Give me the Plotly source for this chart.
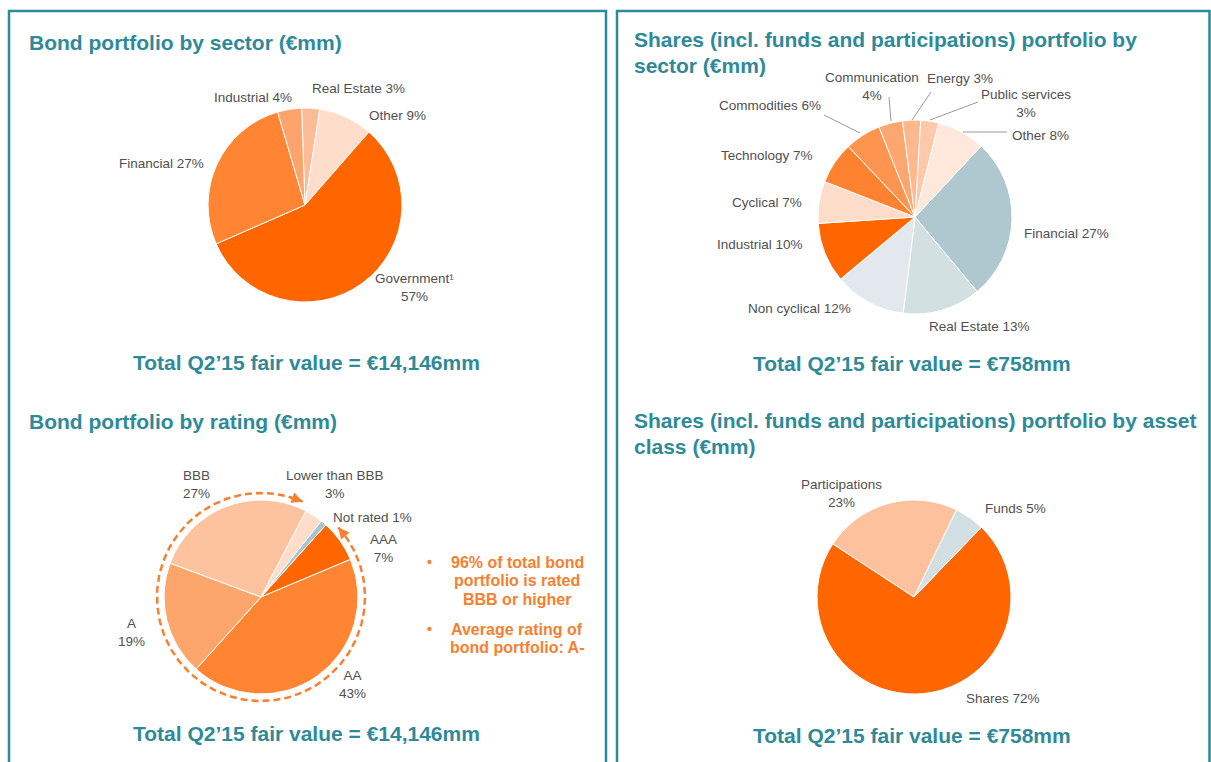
import math
import plotly.graph_objects as go

W, H = 1211, 762

# ---------------- data ----------------
bond_sector_labels = ["Real Estate", "Other", "Government¹", "Financial", "Industrial"]
bond_sector_values = [3, 9, 57, 27, 4]

share_sector_labels = ["Financial", "Real Estate", "Non cyclical", "Industrial", "Cyclical",
                       "Technology", "Commodities", "Communication", "Energy",
                       "Public services", "Other"]
share_sector_values = [27, 13, 12, 10, 7, 7, 6, 4, 3, 3, 8]

bond_rating_labels = ["AAA", "AA", "A", "BBB", "Lower than BBB", "Not rated"]
bond_rating_values = [7, 43, 19, 27, 3, 1]
rated_bbb_or_higher = ["AAA", "AA", "A", "BBB"]

asset_class_labels = ["Shares", "Participations", "Funds"]
asset_class_values = [72, 23, 5]

bond_total = "€14,146mm"
shares_total = "€758mm"

panel_titles = {
    "bond_sector": ["Bond portfolio by sector (€mm)"],
    "share_sector": ["Shares (incl. funds and participations) portfolio by", "sector (€mm)"],
    "bond_rating": ["Bond portfolio by rating (€mm)"],
    "asset_class": ["Shares (incl. funds and participations) portfolio by asset", "class (€mm)"],
}
bullets = [["96% of total bond", "portfolio is rated", "BBB or higher"],
           ["Average rating of", "bond portfolio: A-"]]

# ---------------- styles ----------------
TEAL = "#2E8A98"
ORANGE_TXT = "#F7802F"
LABEL_GRAY = "#505050"
FONT = "Liberation Sans, Arial, sans-serif"

bond_sector_colors = ["#FDBC96", "#FEDDCA", "#FF6600", "#FF8533", "#FCA46C"]
share_sector_colors = ["#AFC7CF", "#D3E0E2", "#E2E8EE", "#FF6600", "#FDDCC9",
                       "#FF8230", "#FD9550", "#FDA66F", "#FDB88E", "#FEC9AB", "#FEE8DC"]
bond_rating_colors = ["#FF6600", "#FF8533", "#FDA66C", "#FDC29E", "#FEDDCB", "#A9C4CC"]
asset_class_colors = ["#FF6600", "#FEC19D", "#D3E0E3"]

R = 97
pies = [
    dict(labels=bond_sector_labels, values=bond_sector_values, colors=bond_sector_colors,
         c=(305, 205), rot=-2),
    dict(labels=share_sector_labels, values=share_sector_values, colors=share_sector_colors,
         c=(915, 217), rot=43),
    dict(labels=bond_rating_labels, values=bond_rating_values, colors=bond_rating_colors,
         c=(261, 597), rot=42),
    dict(labels=asset_class_labels, values=asset_class_values, colors=asset_class_colors,
         c=(914, 597), rot=44),
]


def domain(cx, cy, r):
    return dict(x=[(cx - r) / W, (cx + r) / W], y=[1 - (cy + r) / H, 1 - (cy - r) / H])


fig = go.Figure()

for p in pies:
    fig.add_trace(go.Pie(
        labels=p["labels"], values=p["values"], sort=False, direction="clockwise",
        rotation=p["rot"], textinfo="none", showlegend=False,
        marker=dict(colors=p["colors"], line=dict(color="white", width=1)),
        domain=domain(p["c"][0], p["c"][1], R), hoverinfo="label+percent",
    ))

# dashed arc around bond-by-rating pie, covering the BBB-or-higher share
cx, cy = pies[2]["c"]
RA = 104
share_hi = sum(v for l, v in zip(bond_rating_labels, bond_rating_values) if l in rated_bbb_or_higher)
a0 = pies[2]["rot"] + 6
a1 = pies[2]["rot"] + share_hi * 3.6 - 4
n = 200
xs, ys = [], []
for i in range(n + 1):
    a = math.radians(a0 + (a1 - a0) * i / n)
    xs.append(cx + RA * math.sin(a))
    ys.append(cy - RA * math.cos(a))
fig.add_trace(go.Scatter(x=xs, y=ys, mode="lines", showlegend=False, hoverinfo="skip",
                         line=dict(color=ORANGE_TXT, width=2.5, dash="7px,4px")))

annotations = []


def pt(angle_deg):
    a = math.radians(angle_deg)
    return cx + RA * math.sin(a), cy - RA * math.cos(a)


for tip, back in [(a1, a1 - 5), (a0, a0 + 5)]:
    tx, ty = pt(tip)
    bx, by = pt(back)
    annotations.append(dict(x=tx, y=ty, ax=bx, ay=by, xref="x", yref="y", axref="x", ayref="y",
                            text="", showarrow=True, arrowhead=2, arrowsize=1.1,
                            arrowwidth=2, arrowcolor=ORANGE_TXT))


def txt(x, y, text, size=13.5, color=LABEL_GRAY, bold=False, xanchor="center"):
    if bold:
        text = "<b>" + text + "</b>"
    annotations.append(dict(x=x, y=y, xref="x", yref="y", text=text, showarrow=False,
                            xanchor=xanchor, yanchor="middle",
                            font=dict(family=FONT, size=size, color=color)))


def lab(name, value, sep=" "):
    return f"{name}{sep}{value}%"


# slice labels (layout positions)
label_pos = [
    (bond_sector_labels, bond_sector_values, {
        "Industrial": (253, 97, " "), "Real Estate": (358, 88, " "), "Other": (397, 115, " "),
        "Financial": (161, 163, " "), "Government¹": (414, 287, "<br>")}),
    (share_sector_labels, share_sector_values, {
        "Financial": (1066, 233, " "), "Real Estate": (979, 326, " "),
        "Non cyclical": (799, 308, " "), "Industrial": (760, 244, " "),
        "Cyclical": (767, 202, " "), "Technology": (767, 155, " "),
        "Commodities": (770, 105, " "), "Communication": (872, 86, "<br>"),
        "Energy": (960, 78, " "), "Public services": (1026, 103, "<br>"),
        "Other": (1040, 135, " ")}),
    (bond_rating_labels, bond_rating_values, {
        "BBB": (196, 484, "<br>"), "Lower than BBB": (335, 484, "<br>"),
        "Not rated": (372, 517, " "), "AAA": (383, 548, "<br>"),
        "A": (131, 632, "<br>"), "AA": (352, 684, "<br>")}),
    (asset_class_labels, asset_class_values, {
        "Participations": (841, 493, "<br>"), "Funds": (1015, 508, " "),
        "Shares": (1003, 698, " ")}),
]
for labels, values, pos in label_pos:
    for l, v in zip(labels, values):
        x, y, sep = pos[l]
        txt(x, y, lab(l, v, sep))

# leader lines for the small slices of the shares-by-sector pie
leaders = [((824, 115), (860, 133)), ((889, 97), (891, 121)), ((931, 92), (912, 120)),
           ((978, 102), (930, 120)), ((1007, 132), (963, 132))]
shapes = []
for (x0, y0), (x1, y1) in leaders:
    shapes.append(dict(type="line", xref="x", yref="y", x0=x0, y0=y0, x1=x1, y1=y1,
                       line=dict(color="#9A9A9A", width=1)))

# panel frames
for x0, x1 in [(9, 606), (617, 1209.5)]:
    shapes.append(dict(type="rect", xref="x", yref="y", x0=x0, x1=x1, y0=11, y1=775,
                       line=dict(color=TEAL, width=2.5), fillcolor="rgba(0,0,0,0)"))

# titles
title_pos = {"bond_sector": (27, 42), "share_sector": (632, 39),
             "bond_rating": (27, 421), "asset_class": (632, 420)}
for key, lines in panel_titles.items():
    x, y = title_pos[key]
    for i, line in enumerate(lines):
        txt(x, y + i * 26, line, size=21, color=TEAL, bold=True, xanchor="left")

# totals
for (x, y), total in [((306, 362), bond_total), ((912, 363), shares_total),
                      ((306, 733), bond_total), ((912, 735), shares_total)]:
    txt(x, y, "Total Q2’15 fair value = " + total, size=21, color=TEAL, bold=True)

# bullet notes
for (by, lines) in zip([562, 629], bullets):
    txt(429, by, "•", size=14, color=ORANGE_TXT, bold=True)
    for i, line in enumerate(lines):
        txt(517, by + i * 18.5, line, size=16, color=ORANGE_TXT, bold=True)

fig.update_layout(
    width=W, height=H, margin=dict(l=0, r=0, t=0, b=0),
    paper_bgcolor="white", plot_bgcolor="white",
    xaxis=dict(range=[0, W], domain=[0, 1], visible=False, fixedrange=True),
    yaxis=dict(range=[H, 0], domain=[0, 1], visible=False, fixedrange=True),
    annotations=annotations, shapes=shapes, showlegend=False,
    font=dict(family=FONT),
)

fig.write_html(
    "out.html",
    config={"displayModeBar": False},
    post_script="document.body.style.margin='0';document.body.style.padding='0';"
                "document.body.style.overflow='hidden';",
)
